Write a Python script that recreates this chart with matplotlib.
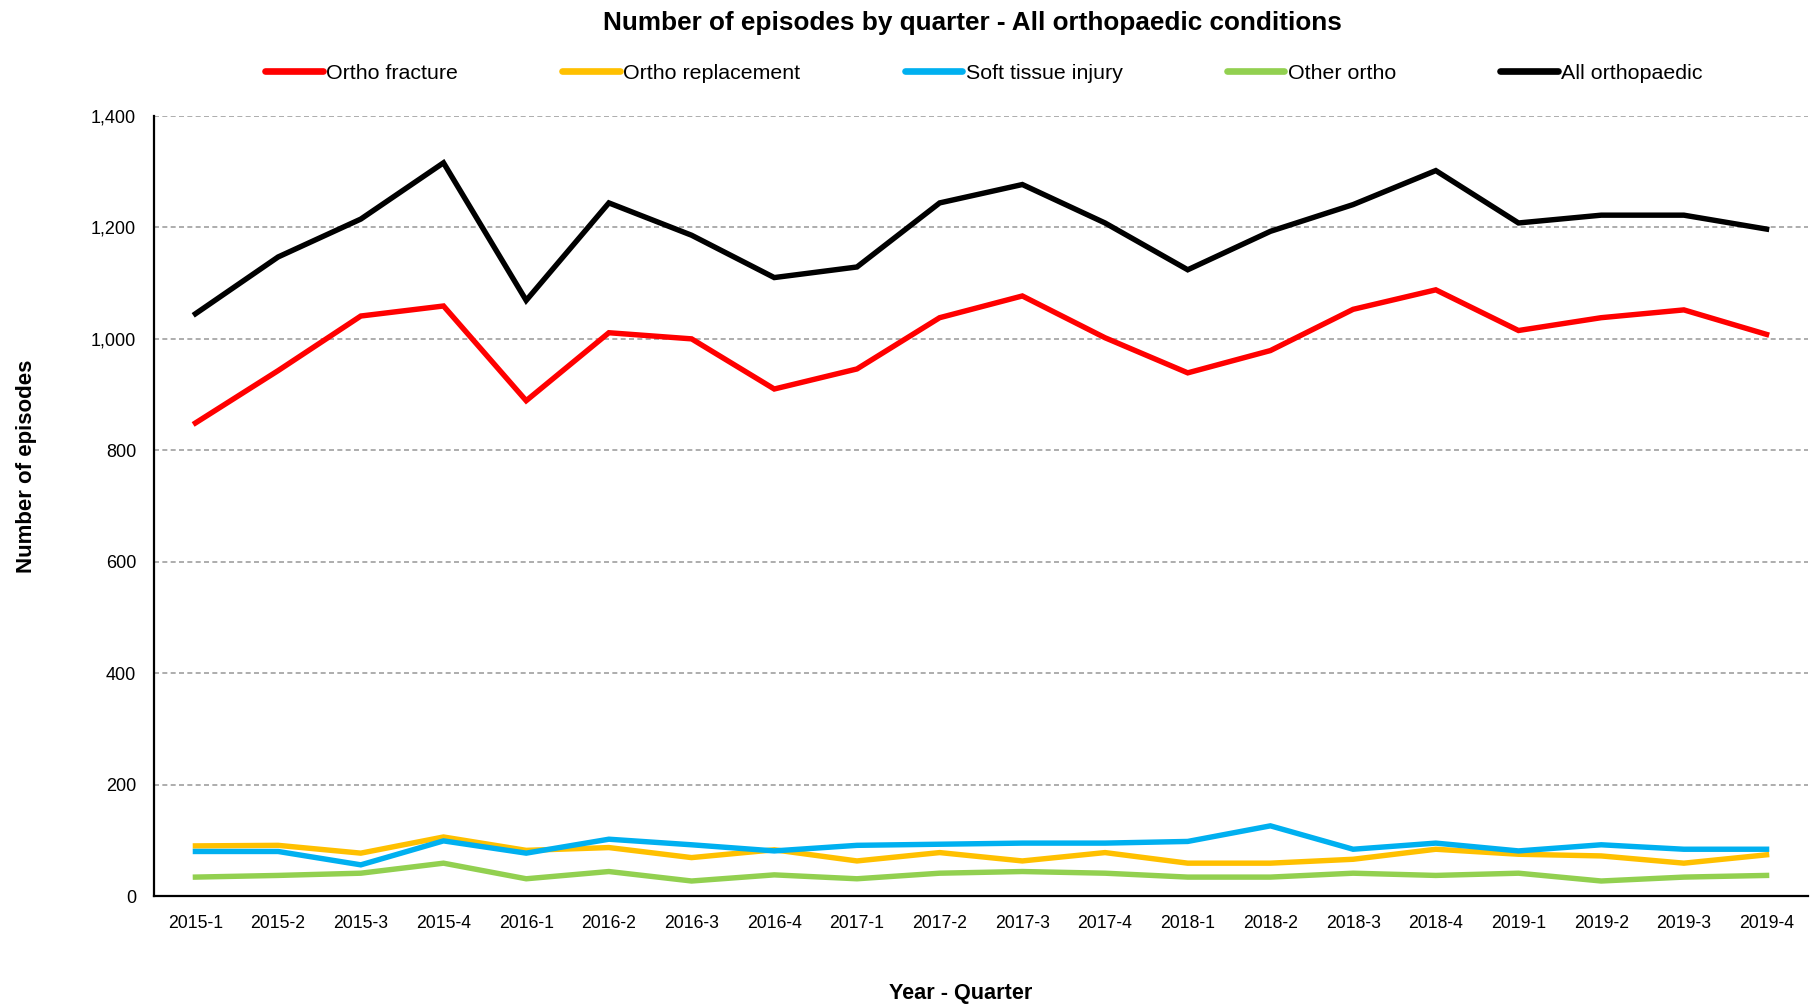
import matplotlib
matplotlib.use("Agg")
import matplotlib.pyplot as plt
from matplotlib.lines import Line2D

quarters = ["2015-1", "2015-2", "2015-3", "2015-4", "2016-1", "2016-2", "2016-3", "2016-4",
            "2017-1", "2017-2", "2017-3", "2017-4", "2018-1", "2018-2", "2018-3", "2018-4",
            "2019-1", "2019-2", "2019-3", "2019-4"]
ortho_fracture = [849, 943, 1041, 1059, 889, 1011, 1000, 910, 946, 1038,
                  1077, 1002, 939, 979, 1053, 1088, 1015, 1038, 1052, 1008]
ortho_replacement = [90, 91, 77, 106, 82, 87, 69, 83, 63, 78,
                     63, 78, 59, 59, 66, 84, 75, 72, 59, 74]
soft_tissue = [80, 80, 56, 99, 77, 102, 92, 81, 91, 93,
               95, 95, 98, 126, 84, 95, 81, 92, 84, 84]
other_ortho = [34, 37, 41, 59, 31, 44, 27, 38, 31, 41,
               44, 41, 34, 34, 41, 37, 41, 27, 34, 37]
all_ortho = [1045, 1147, 1215, 1316, 1069, 1244, 1186, 1110, 1129, 1244,
             1277, 1208, 1124, 1193, 1241, 1302, 1208, 1222, 1222, 1197]

series = [
    ("Ortho fracture", ortho_fracture, "#FF0000"),
    ("Ortho replacement", ortho_replacement, "#FFC000"),
    ("Soft tissue injury", soft_tissue, "#00B0F0"),
    ("Other ortho", other_ortho, "#92D050"),
    ("All orthopaedic", all_ortho, "#000000"),
]

fam = ["Liberation Sans", "DejaVu Sans"]
plt.rcParams["font.family"] = fam

fig = plt.figure(figsize=(18.17, 10.06), dpi=100)
ax = fig.add_axes([0.0848, 0.1093, 0.9102, 0.7754])

x = list(range(len(quarters)))
handles = []
for name, vals, col in series:
    ax.plot(x, vals, color=col, lw=3.9, solid_joinstyle="miter", label=name)
    handles.append(Line2D([], [], color=col, lw=4.8, solid_capstyle="round"))

ax.set_xlim(-0.5, len(quarters) - 0.5)
ax.set_ylim(0, 1400)
ax.set_yticks(range(0, 1401, 200))
ax.set_yticklabels([f"{v:,}" for v in range(0, 1401, 200)], fontsize=13)
ax.set_xticks(x)
ax.set_xticklabels(quarters, fontsize=12.7)
ax.tick_params(axis="both", length=0)
ax.tick_params(axis="x", pad=14)
ax.tick_params(axis="y", pad=13)

for v in range(200, 1401, 200):
    ax.axhline(v, color="#A0A0A0", lw=1.2, ls=(0, (3, 2)), zorder=0)

for s in ["top", "right"]:
    ax.spines[s].set_visible(False)
ax.spines["left"].set_color("black")
ax.spines["left"].set_linewidth(1.6)
ax.spines["bottom"].set_color("black")
ax.spines["bottom"].set_linewidth(1.6)

ax.set_ylabel("Number of episodes", fontweight="bold", fontsize=16)
ax.yaxis.set_label_coords(-0.0707, 0.551)
ax.set_xlabel("Year - Quarter", fontweight="bold", fontsize=15.6)
ax.xaxis.set_label_coords(0.488, -0.111)

fig.text(0.535, 0.9767, "Number of episodes by quarter - All orthopaedic conditions",
         ha="center", va="center", fontweight="bold", fontsize=18.8)

fig.legend(handles, [s[0] for s in series], loc="center", bbox_to_anchor=(0.5415, 0.927),
           ncol=5, frameon=False, prop={"size": 15.4},
           handlelength=2.7, handletextpad=0.16, columnspacing=4.87)

fig.savefig("out.png", dpi=100)
